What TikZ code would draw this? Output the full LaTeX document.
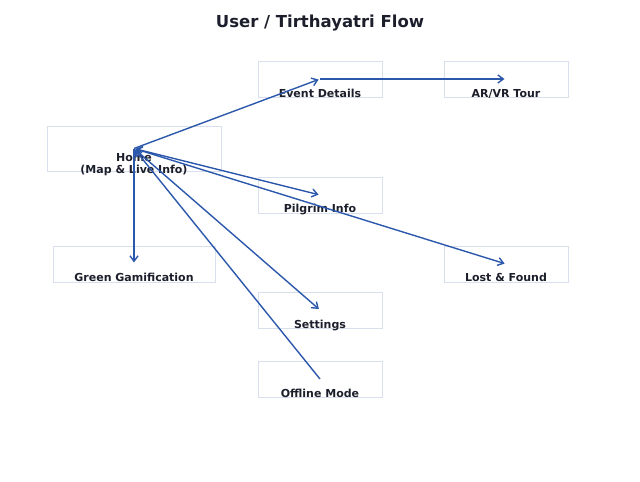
\documentclass[tikz,border=0pt]{standalone}
\usepackage{fontspec}
\setmainfont{DejaVu Sans}
\usetikzlibrary{arrows.meta}
\definecolor{flowblue}{HTML}{2C58AC}
\definecolor{boxline}{HTML}{D8E0EE}
\definecolor{ink}{HTML}{1C1F2B}

\begin{document}
\begin{tikzpicture}[x=1pt,y=-1pt]
        \tikzstyle{every node}=[font=\bfseries\fontsize{11}{12.5}\selectfont,text=ink]
        \tikzstyle{flowbox}=[draw=boxline,line width=1pt,minimum height=36pt,inner sep=0pt]
        \tikzstyle{lbl}=[anchor=base,inner sep=0pt,align=center]
        \tikzstyle{flow}=[flowblue,line width=1.4pt,-{Straight Barb[length=5.5pt,width=8pt]},shorten >=1.5pt]
        \tikzstyle{twoway}=[flow,{Straight Barb[length=5.5pt,width=8pt]}-{Straight Barb[length=5.5pt,width=8pt]},shorten <=1.5pt]
        \useasboundingbox (0,0) rectangle (640,482);
        \begin{scope}
       \node[font=\bfseries\fontsize{16.5}{18}\selectfont] (title) at (320,23) {User / Tirthayatri Flow};

       % boxes
           \node[flowbox,minimum width=174pt,minimum height=45pt] (home) at (134,148.5) {};

           \node[flowbox,minimum width=124pt] (event) at (320,79) {};

           \node[flowbox,minimum width=124pt] (arvr) at (506,79) {};

           \node[flowbox,minimum width=124pt] (pilgrim) at (320,195) {};

           \node[flowbox,minimum width=162pt] (green) at (134,264) {};

           \node[flowbox,minimum width=124pt] (lost) at (506,264) {};

           \node[flowbox,minimum width=124pt] (settings) at (320,310) {};

           \node[flowbox,minimum width=124pt] (offline) at (320,379) {};

       % labels
           \node[lbl,anchor=center] (homelbl) at (134,164.5) {Home\\(Map \& Live Info)};

           \node[lbl] (eventlbl) at (320,97.5) {Event Details};

           \node[lbl] (arvrlbl) at (506,97.5) {AR/VR Tour};

           \node[lbl] (pilgrimlbl) at (320,212.5) {Pilgrim Info};

           \node[lbl] (greenlbl) at (134,281.5) {Green Gamification};

           \node[lbl] (lostlbl) at (506,281.5) {Lost \& Found};

           \node[lbl] (settingslbl) at (320,328.5) {Settings};

           \node[lbl] (offlinelbl) at (320,397.5) {Offline Mode};

       % arrows
           \draw[flow] (home.center) -- (event.center);

           \draw[flow] (event.center) -- (arvr.center);

           \draw[twoway] (home.center) -- (pilgrim.center);

           \draw[twoway] (home.center) -- (lost.center);

           \draw[twoway] (home.center) -- (settings.center);

           \draw[flow] (home.center) -- (green.center);

           \draw[flow] (offline.center) -- (home.center);

     \end{scope}
  \end{tikzpicture}
\end{document}
